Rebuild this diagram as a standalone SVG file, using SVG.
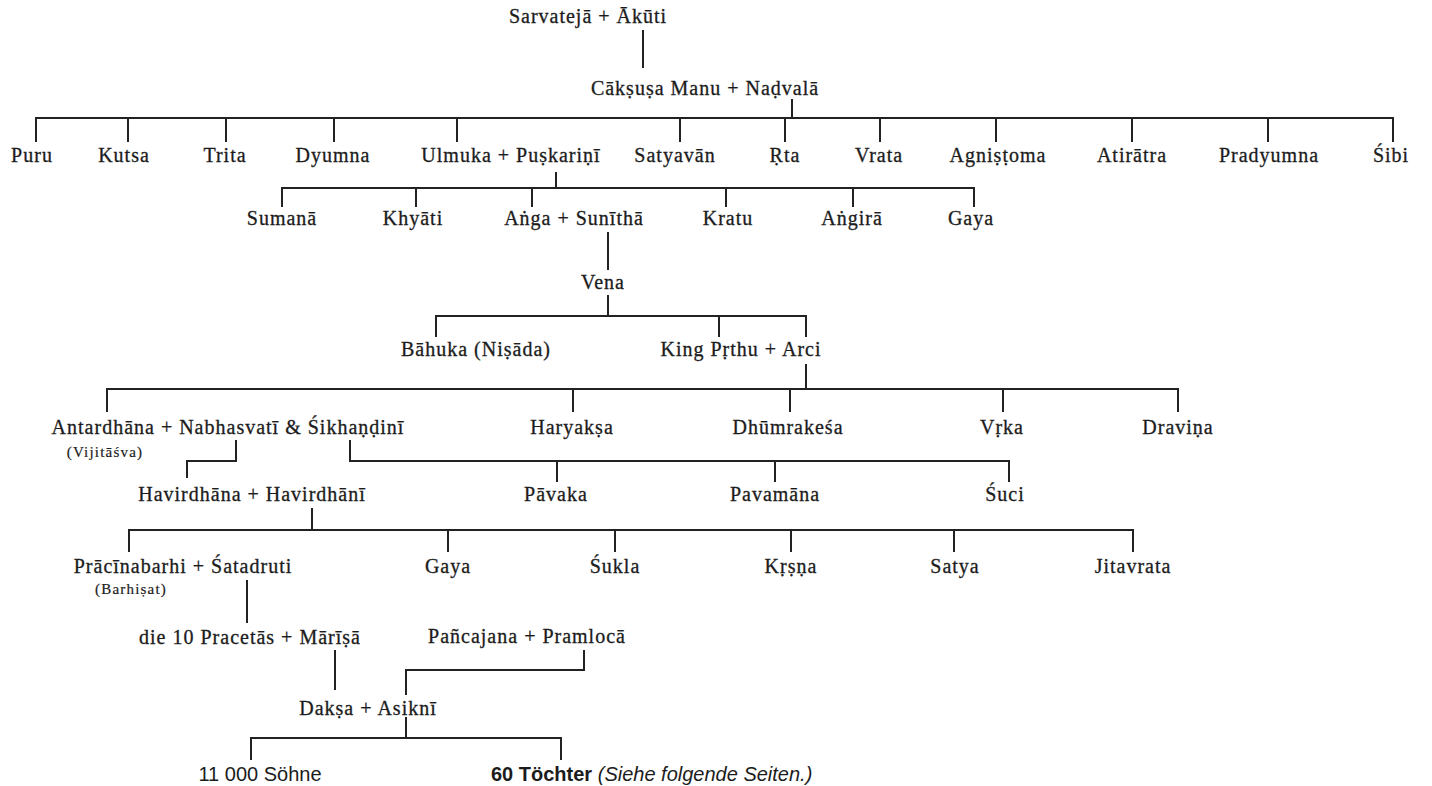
<svg xmlns="http://www.w3.org/2000/svg" width="1432" height="786" viewBox="0 0 1432 786">
<style>
.n{font-family:"Liberation Serif","DejaVu Serif",serif;font-size:20px;letter-spacing:1px;fill:#1c1c1c;stroke:#1c1c1c;stroke-width:0.3px;text-anchor:middle}
.s{font-family:"Liberation Serif","DejaVu Serif",serif;font-size:15px;letter-spacing:1.2px;fill:#1c1c1c;stroke:#1c1c1c;stroke-width:0.2px;text-anchor:middle}
.f{font-family:"Liberation Sans","Arial",sans-serif;font-size:20px;fill:#1c1c1c}
.c path{fill:none;stroke:#222;stroke-width:2}
</style>
<rect width="1432" height="786" fill="#fff"/>
<g class="c" id="connectors">
<path d="M643 30V68"/>
<path d="M792 99V118"/>
<path d="M36 142V118H1393V142M128 118V142M226 118V142M334 118V142M457 118V142M680 118V142M785 118V142M880 118V142M996 118V142M1132 118V142M1268 118V142"/>
<path d="M556 172V188"/>
<path d="M282 207V188H974V207M416 188V207M532 188V207M726 188V207M853 188V207"/>
<path d="M608 232V270"/>
<path d="M608 295V316"/>
<path d="M436 337V316H806V337M719 316V337"/>
<path d="M806 364V389"/>
<path d="M107 412V389H1178V412M573 389V412M790 389V412M1003 389V412"/>
<path d="M236 440V461H187V478"/>
<path d="M350 440V461H1009V482M557 461V482M775 461V482"/>
<path d="M312 508V530"/>
<path d="M129 552V530H1133V552M448 530V552M615 530V552M791 530V552M954 530V552"/>
<path d="M247 580V623"/>
<path d="M335 650V690"/>
<path d="M584 650V670H406V695"/>
<path d="M406 717V738"/>
<path d="M251 760V738H561V760"/>
</g>
<g id="sarvateja"><text class="n" x="588" y="23">Sarvatejā + Ākūti</text></g>
<g id="caksusa"><text class="n" x="705" y="95">Cākṣuṣa Manu + Naḍvalā</text></g>
<g id="puru"><text class="n" x="32" y="162">Puru</text></g>
<g id="kutsa"><text class="n" x="124" y="162">Kutsa</text></g>
<g id="trita"><text class="n" x="225" y="162">Trita</text></g>
<g id="dyumna"><text class="n" x="333" y="162">Dyumna</text></g>
<g id="ulmuka"><text class="n" x="511" y="162">Ulmuka + Puṣkariṇī</text></g>
<g id="satyavan"><text class="n" x="675" y="162">Satyavān</text></g>
<g id="rta"><text class="n" x="785" y="162">Ṛta</text></g>
<g id="vrata"><text class="n" x="879" y="162">Vrata</text></g>
<g id="agnistoma"><text class="n" x="998" y="162">Agniṣṭoma</text></g>
<g id="atiratra"><text class="n" x="1132" y="162">Atirātra</text></g>
<g id="pradyumna"><text class="n" x="1269" y="162">Pradyumna</text></g>
<g id="sibi"><text class="n" x="1391" y="162">Śibi</text></g>
<g id="sumana"><text class="n" x="282" y="225">Sumanā</text></g>
<g id="khyati"><text class="n" x="413" y="225">Khyāti</text></g>
<g id="anga"><text class="n" x="574" y="225">Aṅga + Sunīthā</text></g>
<g id="kratu"><text class="n" x="728" y="225">Kratu</text></g>
<g id="angira"><text class="n" x="852" y="225">Aṅgirā</text></g>
<g id="gaya1"><text class="n" x="971" y="225">Gaya</text></g>
<g id="vena"><text class="n" x="603" y="289">Vena</text></g>
<g id="bahuka"><text class="n" x="476" y="356">Bāhuka (Niṣāda)</text></g>
<g id="prthu"><text class="n" x="741" y="356">King Pṛthu + Arci</text></g>
<g id="antardhana"><text class="n" x="228" y="434">Antardhāna + Nabhasvatī &amp; Śikhaṇḍinī</text><text class="s" x="105" y="457">(Vijitāśva)</text></g>
<g id="haryaksa"><text class="n" x="572" y="434">Haryakṣa</text></g>
<g id="dhumrakesa"><text class="n" x="788" y="434">Dhūmrakeśa</text></g>
<g id="vrka"><text class="n" x="1002" y="434">Vṛka</text></g>
<g id="dravina"><text class="n" x="1178" y="434">Draviṇa</text></g>
<g id="havirdhana"><text class="n" x="252" y="501">Havirdhāna + Havirdhānī</text></g>
<g id="pavaka"><text class="n" x="556" y="501">Pāvaka</text></g>
<g id="pavamana"><text class="n" x="775" y="501">Pavamāna</text></g>
<g id="suci"><text class="n" x="1005" y="501">Śuci</text></g>
<g id="pracinabarhi"><text class="n" x="183" y="573">Prācīnabarhi + Śatadruti</text><text class="s" x="131" y="594">(Barhiṣat)</text></g>
<g id="gaya2"><text class="n" x="448" y="573">Gaya</text></g>
<g id="sukla"><text class="n" x="615" y="573">Śukla</text></g>
<g id="krsna"><text class="n" x="791" y="573">Kṛṣṇa</text></g>
<g id="satya"><text class="n" x="955" y="573">Satya</text></g>
<g id="jitavrata"><text class="n" x="1133" y="573">Jitavrata</text></g>
<g id="pracetas"><text class="n" x="250" y="644">die 10 Pracetās + Mārīṣā</text></g>
<g id="pancajana"><text class="n" x="527" y="643">Pañcajana + Pramlocā</text></g>
<g id="daksa"><text class="n" x="368" y="715">Dakṣa + Asiknī</text></g>
<g id="sohne"><text class="f" x="260" y="781" text-anchor="middle">11 000 Söhne</text></g>
<g id="tochter"><text class="f" x="491" y="781"><tspan font-weight="bold">60 Töchter</tspan> <tspan font-style="italic">(Siehe folgende Seiten.)</tspan></text></g>
</svg>
